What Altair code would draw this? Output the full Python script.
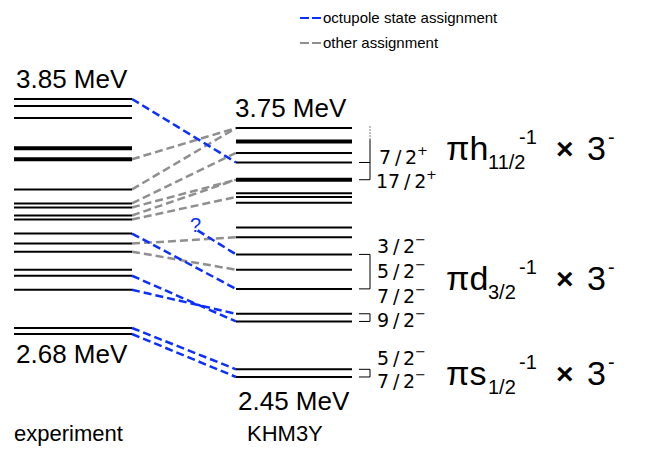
import altair as alt
import pandas as pd

# ---------------------------------------------------------------- data
# experimental levels (MeV) and which of them are drawn heavy
exp_energy = [3.85, 3.815, 3.755, 3.605, 3.55, 3.40, 3.33, 3.31, 3.27, 3.25,
              3.18, 3.13, 3.09, 3.00, 2.97, 2.90, 2.71, 2.68]
exp_heavy = [3.605, 3.55]

# KHM3Y levels (MeV)
th_energy = [3.75, 3.68, 3.62, 3.57, 3.48, 3.41, 3.39, 3.36, 3.23, 3.18,
             3.09, 3.01, 2.91, 2.78, 2.74, 2.49, 2.45]
th_heavy = [3.68, 3.48]

# assignments: experiment level -> KHM3Y level
octupole_exp = [3.85, 3.18, 2.97, 2.90, 2.71, 2.68]
octupole_th = [3.57, 2.91, 2.74, 2.78, 2.49, 2.45]
other_exp = [3.55, 3.40, 3.33, 3.31, 3.27, 3.25, 3.13, 3.09]
other_th = [3.75, 3.75, 3.62, 3.48, 3.48, 3.39, 3.18, 3.01]
# tentative octupole assignment, only its last part is drawn
tentative_exp, tentative_th, tentative_start = 3.40, 3.09, 0.63

# spin groups bracketed on the right of the KHM3Y column
h_bracket = [3.57, 3.48]
d_brackets = [[3.09, 2.91], [2.78, 2.74]]
s_bracket = [2.49, 2.45]

# ---------------------------------------------------------------- layout
W, H = 648, 458
EXP_X = (14, 132)
TH_X = (236, 352)
BLUE = "#0a2fff"
GREY = "#8f8f8f"
FONT = "Liberation Sans"
SPIN_FONT = "DejaVu Sans"
DASH = [8, 4]

# the KHM3Y column has its own (slightly compressed) energy scale,
# expressed here in units of the experimental axis
def th_pos(e):
    return 2.466 + (e - 2.45) * 0.9535

yscale = alt.Scale(domain=[2.0626, 4.3429], range=[H, 0], nice=False, zero=False)
xscale = alt.Scale(domain=[0, W], range=[0, W], nice=False, zero=False)


def levels_frame(energies, heavy, x0, x1, pos):
    return pd.DataFrame({
        "x": x0, "x2": x1,
        "y": [pos(e) for e in energies],
        "w": [4.0 if e in heavy else 2.0 for e in energies],
    })


levels = pd.concat([
    levels_frame(exp_energy, exp_heavy, *EXP_X, lambda e: e),
    levels_frame(th_energy, th_heavy, *TH_X, th_pos),
])

level_layer = alt.Chart(levels).mark_rule(color="black").encode(
    x=alt.X("x:Q", scale=xscale, axis=None),
    x2="x2:Q",
    y=alt.Y("y:Q", scale=yscale, axis=None),
    size=alt.Size("w:Q", scale=None, legend=None),
)


def links(src, dst, color):
    df = pd.DataFrame({
        "x": EXP_X[1], "x2": TH_X[0],
        "y": src, "y2": [th_pos(e) for e in dst],
    })
    return alt.Chart(df).mark_rule(color=color, strokeWidth=2.5, strokeDash=DASH).encode(
        x=alt.X("x:Q", scale=xscale, axis=None), x2="x2:Q",
        y=alt.Y("y:Q", scale=yscale, axis=None), y2="y2:Q",
    )


grey_layer = links(other_exp, other_th, GREY)
blue_layer = links(octupole_exp, octupole_th, BLUE)

# tentative link, starting part-way across the gap
y_a, y_b = tentative_exp, th_pos(tentative_th)
tent = pd.DataFrame({
    "x": [EXP_X[1] + tentative_start * (TH_X[0] - EXP_X[1])], "x2": [TH_X[0]],
    "y": [y_a + tentative_start * (y_b - y_a)], "y2": [y_b],
})
tent_layer = alt.Chart(tent).mark_rule(color=BLUE, strokeWidth=2.5, strokeDash=DASH).encode(
    x=alt.X("x:Q", scale=xscale, axis=None), x2="x2:Q",
    y=alt.Y("y:Q", scale=yscale, axis=None), y2="y2:Q",
)

# brackets: short ticks from each level plus a vertical bar
BX0, BX1 = 359, 370
tick_rows, bar_rows = [], []
for grp in [h_bracket] + d_brackets + [s_bracket]:
    ys = [th_pos(e) for e in grp]
    for y in ys:
        tick_rows.append({"x": BX0, "x2": BX1, "y": y, "y2": y})
    bar_rows.append({"x": BX1, "x2": BX1, "y": max(ys), "y2": min(ys)})
# the h11/2 bar runs further up, fading out into dots
bar_rows[0]["y"] = th_pos(3.69)
bracket_layer = alt.Chart(pd.DataFrame(tick_rows + bar_rows)).mark_rule(
    color="black", strokeWidth=1).encode(
    x=alt.X("x:Q", scale=xscale, axis=None), x2="x2:Q",
    y=alt.Y("y:Q", scale=yscale, axis=None), y2="y2:Q",
)
dot_layer = alt.Chart(pd.DataFrame({"x": [BX1], "y": [th_pos(3.69)], "y2": [th_pos(3.765)]})).mark_rule(
    color="black", strokeWidth=1, strokeDash=[1, 2]).encode(
    x=alt.X("x:Q", scale=xscale, axis=None),
    y=alt.Y("y:Q", scale=yscale, axis=None), y2="y2:Q",
)


def text(t, x, y, size, color="black", align="left", baseline="middle",
         font=FONT, weight="normal"):
    return alt.Chart(pd.DataFrame({"t": [t]})).mark_text(
        align=align, baseline=baseline, fontSize=size, font=font, color=color,
        fontWeight=weight,
    ).encode(x=alt.value(x), y=alt.value(y), text="t:N")


def seg(x0, x1, y, color):
    return alt.Chart(pd.DataFrame({"a": [0]})).mark_rule(
        color=color, strokeWidth=2, strokeDash=[9, 3]).encode(
        x=alt.value(x0), x2=alt.value(x1), y=alt.value(y), y2=alt.value(y))


def spin(num, parity, x, y):
    frac = num.replace("/", "\u2009/\u2009")
    width = 39 if len(num) == 3 else 51
    sign = "+" if parity == "+" else "\u2212"
    return [
        text(frac, x, y, 19, font=SPIN_FONT),
        text(sign, x + width - 1, y - 7, 13, font=SPIN_FONT),
    ]


texts = [
    text("3.85 MeV", 16, 80, 26),
    text("2.68 MeV", 16, 355, 26),
    text("3.75 MeV", 235, 109, 26),
    text("2.45 MeV", 238, 402, 26),
    text("experiment", 14, 434, 22),
    text("KHM3Y", 247, 434, 22),
    text("?", 190, 226, 20, color=BLUE),
    text("octupole state assignment", 323, 18, 15),
    text("other assignment", 323, 43, 15),
    seg(300, 321, 18, BLUE),
    seg(300, 321, 43, GREY),
]
texts += spin("7/2", "+", 379, 158)
texts += spin("17/2", "+", 376, 182)
texts += spin("3/2", "-", 377, 247)
texts += spin("5/2", "-", 377, 272)
texts += spin("7/2", "-", 377, 297)
texts += spin("9/2", "-", 377, 321)
texts += spin("5/2", "-", 377, 359)
texts += spin("7/2", "-", 377, 382)


def config_label(orb, sub, base):
    return [
        text("\u03c0" + orb, 446, base, 34, baseline="alphabetic"),
        text(sub, 488, base + 9, 20, baseline="alphabetic"),
        text("-1", 519, base - 16, 20, baseline="alphabetic"),
        text("\u00d7", 556, base - 1, 30, baseline="alphabetic", weight="bold"),
        text("3", 587, base, 34, baseline="alphabetic"),
        text("-", 608, base - 16, 20, baseline="alphabetic"),
    ]


texts += config_label("h", "11/2", 160)
texts += config_label("d", "3/2", 290)
texts += config_label("s", "1/2", 385)

chart = alt.layer(
    grey_layer, blue_layer, tent_layer, level_layer, bracket_layer, dot_layer, *texts
).properties(
    width=W, height=H, padding=0, autosize="none", background="white"
).configure_view(stroke=None)

chart.save("out.html", embed_options={"renderer": "svg", "actions": False})
